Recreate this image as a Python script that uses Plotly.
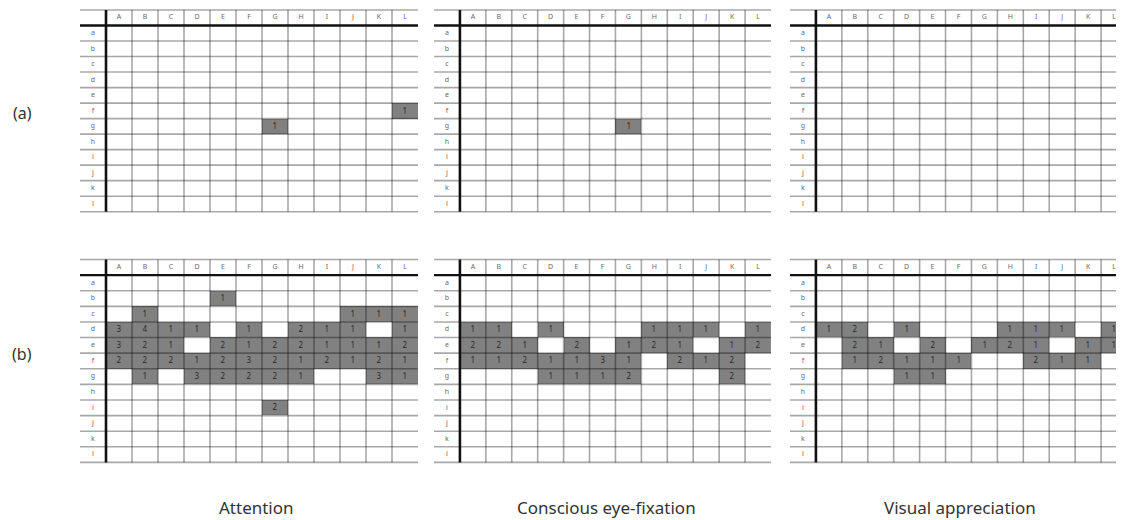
import plotly.graph_objects as go

# the page body has an 8px margin, so the figure is laid out in page pixels minus 8
OFF = 8
W, H = 1124 - OFF, 520 - OFF

col_labels = list("ABCDEFGHIJKL")
row_labels = list("abcdefghijkl")
titles = ["Attention", "Conscious eye-fixation", "Visual appreciation"]
panel_labels = ["(a)", "(b)"]

Z = [0] * 12

attention_a = [Z, Z, Z, Z, Z,
               [0, 0, 0, 0, 0, 0, 0, 0, 0, 0, 0, 1],
               [0, 0, 0, 0, 0, 0, 1, 0, 0, 0, 0, 0],
               Z, Z, Z, Z, Z]
conscious_a = [Z, Z, Z, Z, Z, Z,
               [0, 0, 0, 0, 0, 0, 1, 0, 0, 0, 0, 0],
               Z, Z, Z, Z, Z]
visual_a = [Z] * 12

attention_b = [Z,
               [0, 0, 0, 0, 1, 0, 0, 0, 0, 0, 0, 0],
               [0, 1, 0, 0, 0, 0, 0, 0, 0, 1, 1, 1],
               [3, 4, 1, 1, 0, 1, 0, 2, 1, 1, 0, 1],
               [3, 2, 1, 0, 2, 1, 2, 2, 1, 1, 1, 2],
               [2, 2, 2, 1, 2, 3, 2, 1, 2, 1, 2, 1],
               [0, 1, 0, 3, 2, 2, 2, 1, 0, 0, 3, 1],
               Z,
               [0, 0, 0, 0, 0, 0, 2, 0, 0, 0, 0, 0],
               Z, Z, Z]
conscious_b = [Z, Z, Z,
               [1, 1, 0, 1, 0, 0, 0, 1, 1, 1, 0, 1],
               [2, 2, 1, 0, 2, 0, 1, 2, 1, 0, 1, 2],
               [1, 1, 2, 1, 1, 3, 1, 0, 2, 1, 2, 0],
               [0, 0, 0, 1, 1, 1, 2, 0, 0, 0, 2, 0],
               Z, Z, Z, Z, Z]
visual_b = [Z, Z, Z,
            [1, 2, 0, 1, 0, 0, 0, 1, 1, 1, 0, 1],
            [0, 2, 1, 0, 2, 0, 1, 2, 1, 0, 1, 1],
            [0, 1, 2, 1, 1, 1, 0, 0, 2, 1, 1, 0],
            [0, 0, 0, 1, 1, 0, 0, 0, 0, 0, 0, 0],
            Z, Z, Z, Z, Z]

grids = [[attention_a, conscious_a, visual_a],
         [attention_b, conscious_b, visual_b]]

# page-pixel geometry of each table: (left, right) for x = -1..12, (top, bottom) for y = -1..12
x_px = [(80, 418), (434, 771), (790, 1127)]
y_px = [(10, 211.7), (259.5, 462.4)]
PAD = 0.12

fig = go.Figure()
shapes = []
annotations = []
centers = [i + 0.5 for i in range(12)]

idx = 0
for r in range(2):
    for c in range(3):
        idx += 1
        xa = "x" if idx == 1 else f"x{idx}"
        ya = "y" if idx == 1 else f"y{idx}"
        xl = "xaxis" if idx == 1 else f"xaxis{idx}"
        yl = "yaxis" if idx == 1 else f"yaxis{idx}"

        L, R = x_px[c][0] - OFF, x_px[c][1] - OFF
        T, B = y_px[r][0] - OFF, y_px[r][1] - OFF
        ux = (R - L) / 13.0
        uy = (B - T) / 13.0
        dl = L - PAD * ux
        dr = R + PAD * ux
        xr1 = 12 + PAD
        if dr > W:
            xr1 = 12 + PAD - (dr - W) / ux
            dr = W
        dt = max(T - PAD * uy, 0)
        db = B + PAD * uy
        yr0 = -1 - (T - dt) / uy

        fig.layout[xl] = dict(domain=[dl / W, dr / W], range=[-1 - PAD, xr1],
                              visible=False, fixedrange=True)
        fig.layout[yl] = dict(domain=[1 - db / H, 1 - dt / H], range=[12 + PAD, yr0],
                              visible=False, fixedrange=True)

        g = grids[r][c]
        z = [[(v if v else None) for v in row] for row in g]
        txt = [[(str(v) if v else "") for v in row] for row in g]
        fig.add_trace(go.Heatmap(
            x=centers, y=centers, z=z, text=txt, texttemplate="%{text}",
            textfont=dict(size=8, color="#2a2a2a", family="Noto Sans"),
            colorscale=[[0, "#818181"], [1, "#818181"]], zmin=0, zmax=5,
            showscale=False, hoverinfo="skip", xaxis=xa, yaxis=ya))

        # column letters and row letters
        fig.add_trace(go.Scatter(
            x=centers, y=[-0.5] * 12, text=col_labels, mode="text",
            textfont=dict(size=7, color="#6a6a6a", family="Noto Sans"),
            hoverinfo="skip", showlegend=False, xaxis=xa, yaxis=ya))
        fig.add_trace(go.Scatter(
            x=[-0.5] * 12, y=centers, text=row_labels, mode="text",
            textfont=dict(size=7, color="#6a6a6a", family="Noto Sans"),
            hoverinfo="skip", showlegend=False, xaxis=xa, yaxis=ya))

        grid_line = dict(color="rgba(0,0,0,0.34)", width=1.6)
        for yy in range(-1, 13):
            if yy == 0:
                continue
            shapes.append(dict(type="line", xref=xa, yref=ya, x0=-1, x1=12, y0=yy, y1=yy,
                               line=grid_line, layer="above"))
        for xx in range(1, 12):
            shapes.append(dict(type="line", xref=xa, yref=ya, x0=xx, x1=xx, y0=-1, y1=12,
                               line=grid_line, layer="above"))
        shapes.append(dict(type="line", xref=xa, yref=ya, x0=-1, x1=12, y0=0, y1=0,
                           line=dict(color="#111111", width=2.4), layer="above"))
        shapes.append(dict(type="line", xref=xa, yref=ya, x0=0, x1=0, y0=-1, y1=12,
                           line=dict(color="#111111", width=2.6), layer="above"))

for i, lab in enumerate(panel_labels):
    yc = [113, 354][i] - OFF
    annotations.append(dict(text=lab, x=(22 - OFF) / W, y=1 - yc / H, xref="paper", yref="paper",
                            showarrow=False, xanchor="center", yanchor="middle",
                            font=dict(size=16, color="#333333", family="Noto Sans")))

title_x = [256, 606, 960]
for i, t in enumerate(titles):
    annotations.append(dict(text=t, x=(title_x[i] - OFF) / W, y=1 - (507 - OFF) / H,
                            xref="paper", yref="paper",
                            showarrow=False, xanchor="center", yanchor="middle",
                            font=dict(size=17, color="#333333", family="Noto Sans")))

fig.update_layout(width=W, height=H, margin=dict(l=0, r=0, t=0, b=0),
                  paper_bgcolor="white", plot_bgcolor="white",
                  shapes=shapes, annotations=annotations, showlegend=False)

fig.write_html("out.html")
